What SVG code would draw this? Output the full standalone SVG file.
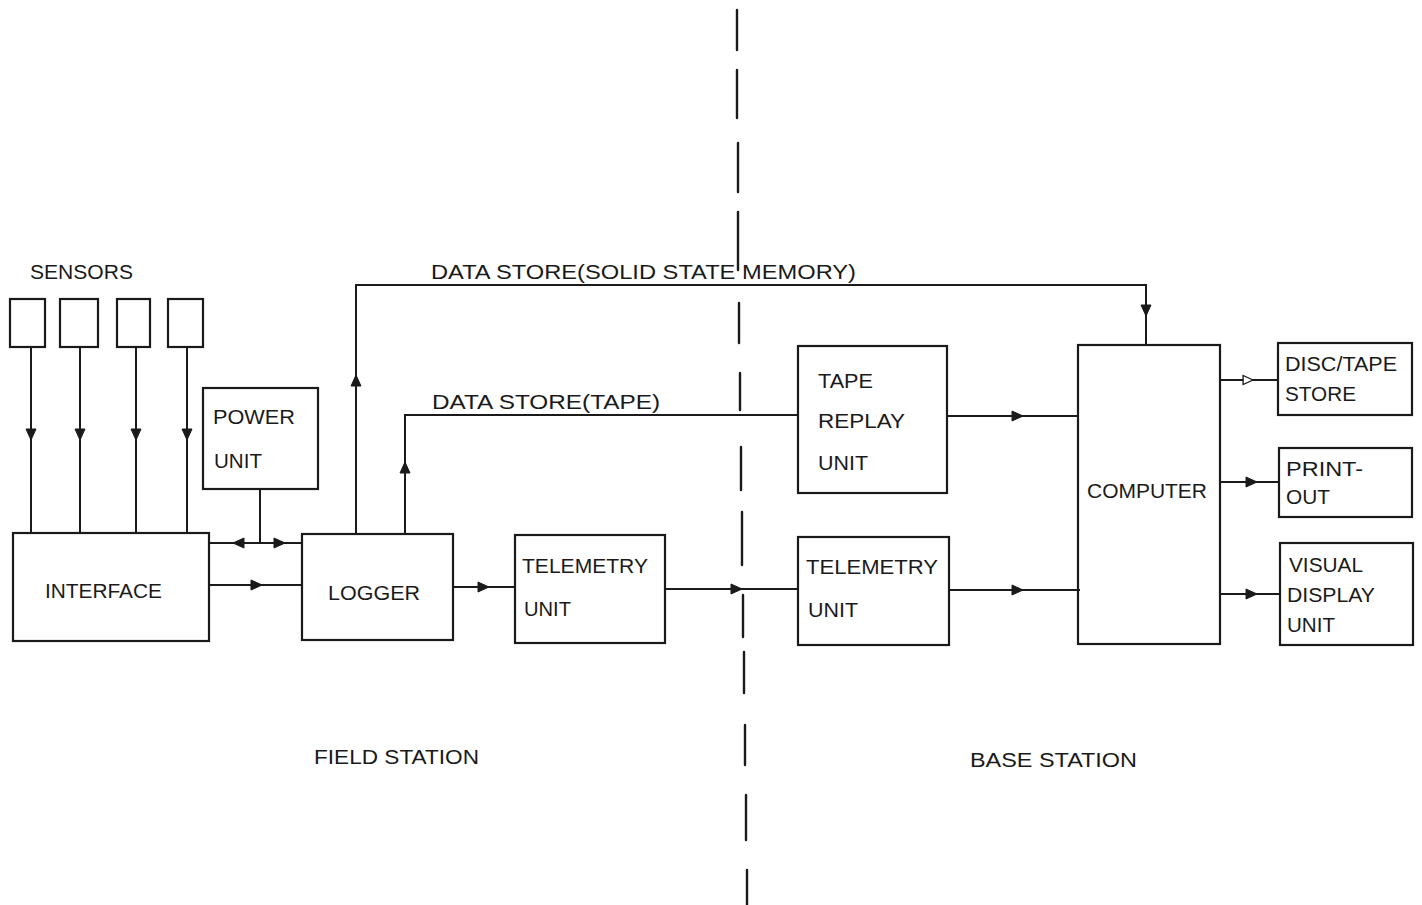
<svg xmlns="http://www.w3.org/2000/svg" xmlns:xlink="http://www.w3.org/1999/xlink" width="1422" height="905" viewBox="0 0 1422 905">
<style>
.box{fill:none;stroke:#1a1a1a;stroke-width:2.2}
.ln{fill:none;stroke:#1a1a1a;stroke-width:2}
.dash{stroke:#1a1a1a;stroke-width:2.4;stroke-linecap:round}
.t{font-family:"Liberation Sans",Arial,sans-serif;font-size:20px;fill:#1a1a1a}
.ah{fill:#1a1a1a;stroke:#1a1a1a;stroke-width:1}
.oh{fill:#fff;stroke:#1a1a1a;stroke-width:1.5}
</style>
<defs>
<path id="ah" d="M0,0 L-11,-5 L-11,5 Z"/>
</defs>
<rect width="1422" height="905" fill="#fff"/>

<g id="divider">
<line class="dash" x1="737" y1="10" x2="737" y2="50"/>
<line class="dash" x1="737" y1="70" x2="737" y2="118"/>
<line class="dash" x1="738" y1="143" x2="738" y2="192"/>
<line class="dash" x1="738" y1="212" x2="738" y2="270"/>
<line class="dash" x1="739" y1="303" x2="739" y2="343"/>
<line class="dash" x1="740" y1="373" x2="740" y2="410"/>
<line class="dash" x1="741" y1="447" x2="741" y2="490"/>
<line class="dash" x1="742" y1="512" x2="742" y2="565"/>
<line class="dash" x1="743" y1="595" x2="743" y2="637"/>
<line class="dash" x1="744" y1="652" x2="744" y2="693"/>
<line class="dash" x1="745" y1="725" x2="745" y2="765"/>
<line class="dash" x1="746" y1="795" x2="746" y2="840"/>
<line class="dash" x1="747" y1="870" x2="747" y2="905"/>
</g>

<g id="connectors">
<path class="ln" d="M31,347 V533 M80,347 V533 M136,347 V533 M187,347 V533"/>
<use href="#ah" class="ah" transform="translate(31,440) rotate(90)"/>
<use href="#ah" class="ah" transform="translate(80,440) rotate(90)"/>
<use href="#ah" class="ah" transform="translate(136,440) rotate(90)"/>
<use href="#ah" class="ah" transform="translate(187,440) rotate(90)"/>
<path class="ln" d="M260,489 V543 M209,543 H302"/>
<use href="#ah" class="ah" transform="translate(233,543) rotate(180)"/>
<use href="#ah" class="ah" transform="translate(285,543)"/>
<path class="ln" d="M209,585 H302"/>
<use href="#ah" class="ah" transform="translate(262,585)"/>
<path class="ln" d="M356,533 V285 H1146 V345"/>
<use href="#ah" class="ah" transform="translate(356,375) rotate(-90)"/>
<use href="#ah" class="ah" transform="translate(1146,316) rotate(90)"/>
<path class="ln" d="M405,533 V415 H798"/>
<use href="#ah" class="ah" transform="translate(405,462) rotate(-90)"/>
<path class="ln" d="M453,587 H515"/>
<use href="#ah" class="ah" transform="translate(489,587)"/>
<path class="ln" d="M666,589 H798"/>
<use href="#ah" class="ah" transform="translate(742,589)"/>
<path class="ln" d="M948,416 H1078"/>
<use href="#ah" class="ah" transform="translate(1023,416)"/>
<path class="ln" d="M950,590 H1080"/>
<use href="#ah" class="ah" transform="translate(1023,590)"/>
<path class="ln" d="M1220,380 H1278"/>
<use href="#ah" class="oh" transform="translate(1253,380) scale(0.9)"/>
<path class="ln" d="M1220,482 H1279"/>
<use href="#ah" class="ah" transform="translate(1257,482)"/>
<path class="ln" d="M1220,594 H1280"/>
<use href="#ah" class="ah" transform="translate(1257,594)"/>
</g>

<g id="labels">
<text class="t" x="30" y="279" textLength="103" lengthAdjust="spacingAndGlyphs">SENSORS</text>
<text class="t" x="431" y="279" textLength="425" lengthAdjust="spacingAndGlyphs">DATA STORE(SOLID STATE MEMORY)</text>
<text class="t" x="432" y="409" textLength="228" lengthAdjust="spacingAndGlyphs">DATA STORE(TAPE)</text>
<text class="t" x="314" y="764" textLength="165" lengthAdjust="spacingAndGlyphs">FIELD STATION</text>
<text class="t" x="970" y="767" textLength="167" lengthAdjust="spacingAndGlyphs">BASE STATION</text>
</g>

<g id="sensor1"><rect class="box" x="10" y="299" width="35" height="48"/></g>
<g id="sensor2"><rect class="box" x="60" y="299" width="38" height="48"/></g>
<g id="sensor3"><rect class="box" x="117" y="299" width="33" height="48"/></g>
<g id="sensor4"><rect class="box" x="168" y="299" width="35" height="48"/></g>

<g id="interface">
<rect class="box" x="13" y="533" width="196" height="108"/>
<text class="t" x="45" y="598" textLength="117" lengthAdjust="spacingAndGlyphs">INTERFACE</text>
</g>
<g id="power">
<rect class="box" x="203" y="388" width="115" height="101"/>
<text class="t" x="213" y="424" textLength="82" lengthAdjust="spacingAndGlyphs">POWER</text>
<text class="t" x="214" y="468" textLength="48" lengthAdjust="spacingAndGlyphs">UNIT</text>
</g>
<g id="logger">
<rect class="box" x="302" y="534" width="151" height="106"/>
<text class="t" x="328" y="600" textLength="92" lengthAdjust="spacingAndGlyphs">LOGGER</text>
</g>
<g id="telemetry1">
<rect class="box" x="515" y="535" width="150" height="108"/>
<text class="t" x="522" y="573" textLength="126" lengthAdjust="spacingAndGlyphs">TELEMETRY</text>
<text class="t" x="524" y="616" textLength="47" lengthAdjust="spacingAndGlyphs">UNIT</text>
</g>
<g id="tapereplay">
<rect class="box" x="798" y="346" width="149" height="147"/>
<text class="t" x="818" y="388" textLength="55" lengthAdjust="spacingAndGlyphs">TAPE</text>
<text class="t" x="818" y="428" textLength="87" lengthAdjust="spacingAndGlyphs">REPLAY</text>
<text class="t" x="818" y="470" textLength="50" lengthAdjust="spacingAndGlyphs">UNIT</text>
</g>
<g id="telemetry2">
<rect class="box" x="798" y="537" width="151" height="108"/>
<text class="t" x="806" y="574" textLength="132" lengthAdjust="spacingAndGlyphs">TELEMETRY</text>
<text class="t" x="808" y="617" textLength="50" lengthAdjust="spacingAndGlyphs">UNIT</text>
</g>
<g id="computer">
<rect class="box" x="1078" y="345" width="142" height="299"/>
<text class="t" x="1087" y="498" textLength="120" lengthAdjust="spacingAndGlyphs">COMPUTER</text>
</g>
<g id="disctape">
<rect class="box" x="1278" y="343" width="134" height="72"/>
<text class="t" x="1285" y="371" textLength="112" lengthAdjust="spacingAndGlyphs">DISC/TAPE</text>
<text class="t" x="1285" y="401" textLength="71" lengthAdjust="spacingAndGlyphs">STORE</text>
</g>
<g id="printout">
<rect class="box" x="1279" y="448" width="133" height="69"/>
<text class="t" x="1286" y="476" textLength="77" lengthAdjust="spacingAndGlyphs">PRINT-</text>
<text class="t" x="1286" y="504" textLength="44" lengthAdjust="spacingAndGlyphs">OUT</text>
</g>
<g id="vdu">
<rect class="box" x="1280" y="543" width="133" height="102"/>
<text class="t" x="1289" y="572" textLength="74" lengthAdjust="spacingAndGlyphs">VISUAL</text>
<text class="t" x="1287" y="602" textLength="88" lengthAdjust="spacingAndGlyphs">DISPLAY</text>
<text class="t" x="1287" y="632" textLength="48" lengthAdjust="spacingAndGlyphs">UNIT</text>
</g>
</svg>
